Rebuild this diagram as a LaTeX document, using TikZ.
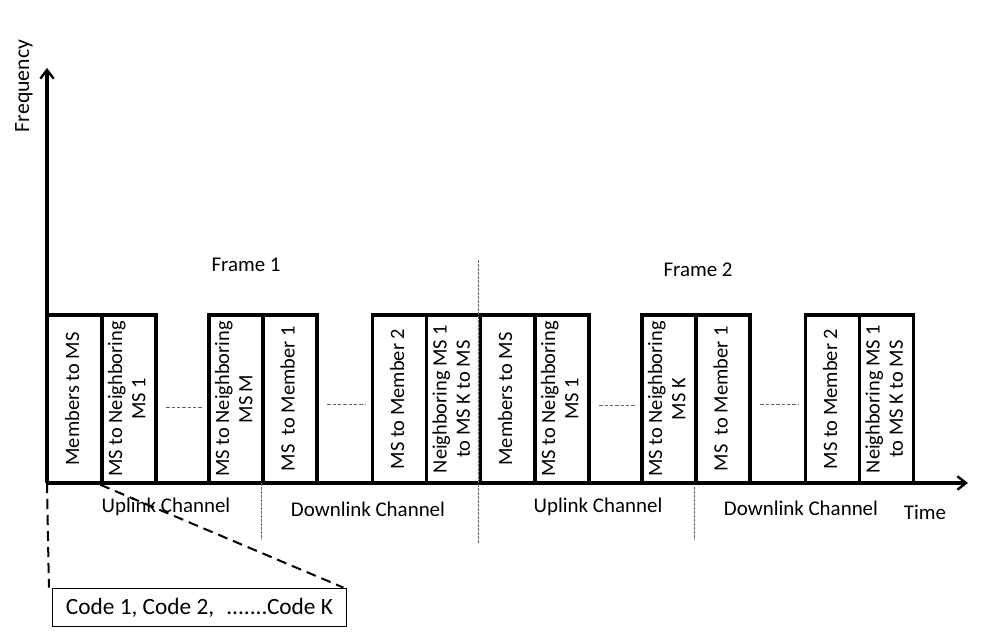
\documentclass[tikz,border=0pt]{standalone}
\usepackage{fontspec}
\usepackage{graphicx,array}
\setmainfont{Carlito}
\usetikzlibrary{arrows.meta}
\newcommand{\vlabel}[1]{\rotatebox{90}{\begin{tabular}{@{}c@{}}#1\end{tabular}}}

\begin{document}
\begin{tikzpicture}[x=0.75pt,y=-0.75pt,
        slot/.style={draw,line width=2.6pt,minimum width=40.5pt,minimum height=126pt,inner sep=0pt,font=\fontsize{15.3}{17.5}\selectfont},
        lbl/.style={font=\fontsize{15.7}{18}\selectfont},
        axis/.style={line width=2.6pt,-{Straight Barb[length=6.5pt,width=10pt,line width=1.8pt]}},
        gapline/.style={gray!80!black,line width=0.6pt,dash pattern=on 2.5pt off 1.5pt,shorten <=6.5pt,shorten >=4pt},
        sepline/.style={gray!80!black,line width=0.5pt,dash pattern=on 2pt off 1pt},
        zoomline/.style={line width=1.5pt,dash pattern=on 7.5pt off 4.5pt}]
            \useasboundingbox (0,0) rectangle (982,635);
            % axes
            \coordinate (o) at (47,483);
            \coordinate (ytip) at (47,68);
            \coordinate (xtip) at (968,483);
            \draw[axis] (o)--(ytip);
            \draw[axis] (o)--(xtip);
            \node[lbl,rotate=90,font=\fontsize{16.3}{18}\selectfont] (freq) at (24,86) {Frequency};
            \node[lbl] (time) at (925,512) {Time};
            % frame 1
            \node[slot] (u1) at (74.5,399) {\vlabel{Members to MS}};
            \node[slot] (u2) at (129,399) {\vlabel{MS to Neighboring\\MS 1}};
            \node[slot] (u3) at (236,399) {\vlabel{MS to Neighboring\\MS M}};
            \node[slot] (u4) at (290,399) {\vlabel{MS \ to Member 1}};
            \node[slot] (u5) at (399.5,399) {\vlabel{MS to Member 2}};
            \node[slot] (u6) at (453.5,399) {\vlabel{Neighboring MS 1\\to MS K to MS}};
            % frame 2
            \node[slot] (u7) at (507.5,399) {\vlabel{Members to MS}};
            \node[slot] (u8) at (562,399) {\vlabel{MS to Neighboring\\MS 1}};
            \node[slot] (u9) at (669,399) {\vlabel{MS to Neighboring\\MS K}};
            \node[slot] (u10) at (723,399) {\vlabel{MS \ to Member 1}};
            \node[slot] (u11) at (832.5,399) {\vlabel{MS to Member 2}};
            \node[slot] (u12) at (886.5,399) {\vlabel{Neighboring MS 1\\to MS K to MS}};
            % gaps
            \draw[gapline] ([yshift=-6pt]u2.east)--([yshift=-6pt]u3.west);
            \draw[gapline] ([yshift=-4pt]u4.east)--([yshift=-4pt]u5.west);
            \draw[gapline] ([yshift=-5pt]u8.east)--([yshift=-5pt]u9.west);
            \draw[gapline] ([yshift=-4pt]u10.east)--([yshift=-4pt]u11.west);
            % separators
            \draw[sepline] (u4.west |- 0,483)--(u4.west |- 0,540);
            \draw[sepline] (u7.west |- 0,260)--(u7.west |- 0,543);
            \draw[sepline] (u10.west |- 0,487)--(u10.west |- 0,540);
            \node[lbl] (frame1) at (246,265) {Frame 1};
            \node[lbl] (frame2) at (698,270) {Frame 2};
            \node[lbl] (ul1) at (166,507) {Uplink Channel};
            \node[lbl] (dl1) at (368,509) {Downlink Channel};
            \node[lbl] (ul2) at (598,507) {Uplink Channel};
            \node[lbl] (dl2) at (801,508) {Downlink Channel};
            % codes
            \node[draw,line width=0.9pt,minimum width=221pt,minimum height=29pt,inner sep=0pt,font=\fontsize{17.5}{20}\selectfont] (codes) at (199.5,607.5) {Code 1, Code 2,\hspace{9pt}.......Code K};
            \draw[zoomline] (o)--([xshift=-2pt]codes.north west);
            \draw[zoomline] (u2.south west)--([xshift=-3pt]codes.north east);
        \end{tikzpicture}
\end{document}
